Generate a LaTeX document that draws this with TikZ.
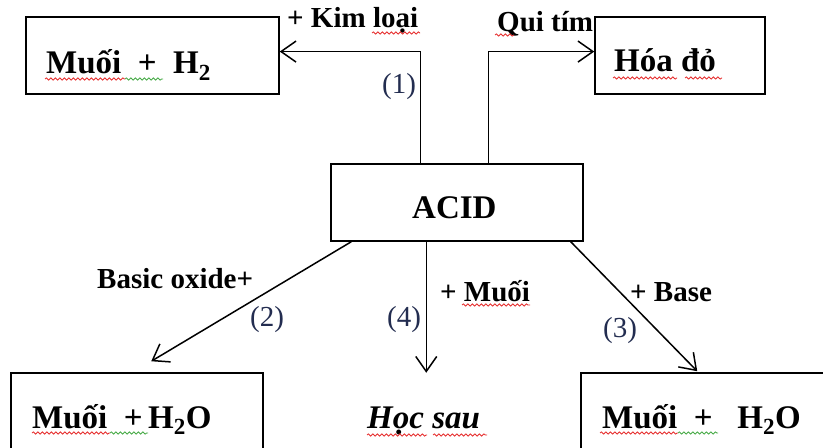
\documentclass[tikz,border=0pt]{standalone}
\usepackage{fontspec}
\setmainfont{Liberation Serif}
\usetikzlibrary{arrows.meta,calc,decorations.pathmorphing}
\definecolor{numc}{RGB}{35,45,80}
\definecolor{spred}{RGB}{230,45,45}
\definecolor{spgreen}{RGB}{70,170,70}
\begin{document}
\begin{tikzpicture}[x=1bp,y=-1bp,
 box/.style={draw, line width=1.5bp, inner sep=0pt, rectangle},
 conn/.style={line width=1.5bp, -{Straight Barb[length=15bp,width=21bp,line width=1.5bp]}},
 big/.style={font=\fontsize{33bp}{38bp}\selectfont\bfseries, inner sep=0pt, anchor=base west},
 lab/.style={font=\fontsize{29bp}{34bp}\selectfont\bfseries, inner sep=0pt, anchor=base west},
 num/.style={font=\fontsize{29bp}{34bp}\selectfont, inner sep=0pt, anchor=base west, text=numc},
 wavy/.style={decorate, decoration={snake, amplitude=1.1bp, segment length=4.5bp}, line width=0.8bp},
 spr/.style={wavy, spred},
 spg/.style={wavy, spgreen},
]
\useasboundingbox (0,0) rectangle (823,448);
\clip (0,0) rectangle (823,448);
% boxes
\node[box, minimum width=253bp, minimum height=77bp] (mh2) at (152.5,55.5) {};
\node[box, minimum width=170bp, minimum height=77bp] (hoado) at (680,55.5) {};
\node[box, minimum width=252bp, minimum height=77bp] (acid) at (457,202.5) {};
\node[box, minimum width=252bp, minimum height=110bp] (bl) at (137,428) {};
\node[box, minimum width=260bp, minimum height=110bp] (br) at (711,428) {};
% box texts
\node[big] (t1) at (46,74) {Muối\ \ +\ \ H\textsubscript{2}};
\node[big] (t2) at (614,72) {Hóa đỏ};
\node[big] (t3) at (412,219) {ACID};
\node[big] (t4) at (32,428) {Muối\ \ +\,H\textsubscript{2}O};
\node[big, font=\fontsize{33bp}{38bp}\selectfont\bfseries\itshape] (t5) at (367,428) {Học sau};
\node[big] (t6) at (602,428) {Muối\ \ +\ \ \ H\textsubscript{2}O};
% labels
\node[lab] (l1) at (287,28) {+ Kim loại};
\node[num] (n1) at (382,94) {(1)};
\node[lab] (l2) at (497,32) {Qui tím};
\node[lab] (l3) at (97,289) {Basic oxide+};
\node[num] (n2) at (250,327) {(2)};
\node[num] (n4) at (387,327) {(4)};
\node[lab] (l4) at (440,302) {+ Muối};
\node[lab] (l5) at (630,302) {+ Base};
\node[num] (n3) at (603,338) {(3)};
% spell-check underlines
\draw[spr] (45,79) -- (125,79);
\draw[spg] (125,79) -- (163,79);
\draw[spr] (372,33) -- (420,33);
\draw[spr] (495,35) -- (514,35);
\draw[spr] (613,78) -- (677,78);
\draw[spr] (685,78) -- (722,78);
\draw[spr] (462,305) -- (530,305);
\draw[spr] (32,433) -- (110,433);
\draw[spg] (110,433) -- (148,433);
\draw[spr] (367,435) -- (427,435);
\draw[spr] (433,435) -- (487,435);
\draw[spr] (600,433) -- (678,433);
\draw[spg] (678,433) -- (718,433);
% connectors
\draw[conn] ($(acid.north west)+(90,0)$) |- ($(mh2.north east)!0.45!(mh2.south east)$);
\draw[conn] ($(acid.north west)+(158,0)$) |- ($(hoado.north west)!0.45!(hoado.south west)$);
\coordinate (e2) at ($(bl.north west)+(141,-11)$);
\coordinate (e4) at ($(acid.south west)+(96,131)$);
\coordinate (e3) at ($(br.north west)+(117,-1)$);
\draw[conn] ($(acid.south west)+(21,0)$) -- (e2);
\draw[conn] ($(acid.south west)+(96,0)$) -- (e4);
\draw[conn] ($(acid.south east)+(-13,0)$) -- (e3);
\end{tikzpicture}
\end{document}
